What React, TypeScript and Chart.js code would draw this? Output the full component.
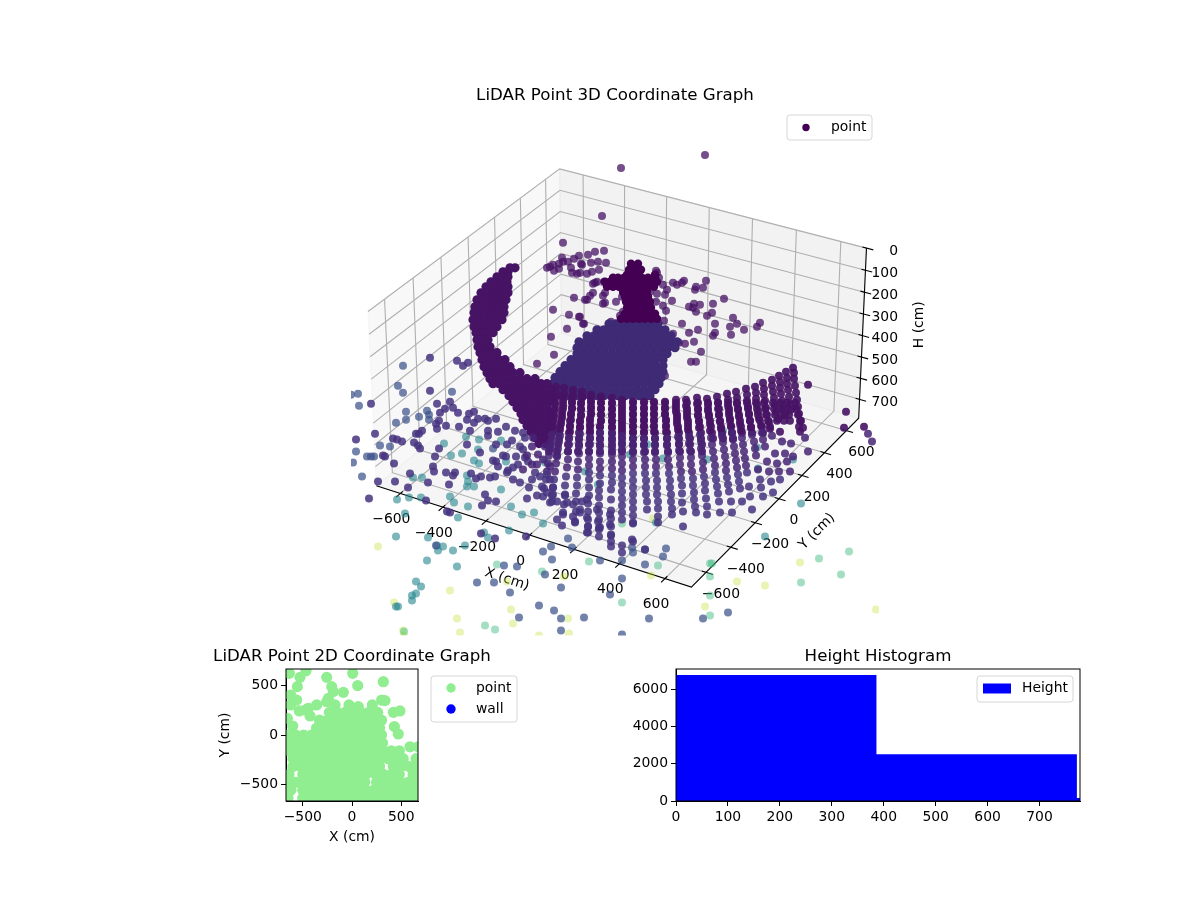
import React, { useEffect, useRef } from 'react';
import { Chart, registerables } from 'chart.js';

Chart.register(...registerables);
Chart.defaults.font.family = '"DejaVu Sans"';
Chart.defaults.font.size = 13.9;
Chart.defaults.color = '#000';

// 3D panel: a photo keeps no depth, so the cloud is read as [across, up] in the view plane of the axes
type Pair = [number, number];
type Row = [number, number[]];

const xTicks3d = [-600, -400, -200, 0, 200, 400, 600];
const yTicks3d = [-600, -400, -200, 0, 200, 400, 600];
const hTicks3d = [0, 100, 200, 300, 400, 500, 600, 700];
const xLim3d = [-714, 714];
const yLim3d = [-714, 714];
const hLim3d = [0, 790];

const towerRows: Row[] = [
  [108, [16, 23]],
  [102, [14, 20, 26]],
  [97, [12, 18, 24, 40]],
  [94, [-2, 3, 9, 15, 21, 27, 33, 40]],
  [90, [-10, -5, 0, 6, 12, 18, 24, 30, 36, 42]],
  [85, [-8, -2, 4, 10, 16, 22, 28, 34, 39]],
  [80, [8, 14, 20, 26, 32]],
  [75, [10, 16, 22, 28, 33]],
  [70, [11, 17, 23, 29, 35]],
  [64, [12, 18, 24, 30, 36]],
  [58, [10, 16, 22, 28, 34, 40]],
  [53, [6, 12, 18, 24, 30, 36, 42]],
];

const sheetRows: Row[] = [
  [104, [-100, -105]],
  [100, [-112, -107]],
  [95, [-118, -112, -107]],
  [90, [-124, -119, -113, -108]],
  [85, [-129, -123, -118, -112, -107]],
  [79, [-134, -128, -122, -117, -112, -107]],
  [72, [-138, -132, -126, -120, -114, -109]],
  [65, [-140, -134, -128, -122, -117, -111]],
  [59, [-141, -135, -129, -123, -117, -111]],
  [52, [-142, -136, -130, -124, -118, -113]],
  [45, [-141, -135, -129, -123, -118]],
  [39, [-139, -133, -128, -122]],
  [32, [-138, -132, -127]],
  [25, [-137, -131, -125]],
  [19, [-135, -129, -123, -118]],
  [12, [-133, -128, -122, -116, -110]],
  [5, [-131, -125, -118, -112, -105]],
  [-1, [-128, -122, -115, -108, -102, -95]],
  [-7, [-125, -118, -110, -102, -95, -88, -80]],
  [-12, [-122, -116, -110, -104, -98, -92, -86, -80, -74, -68]],
  [-18, [-112, -106, -100, -94, -88, -82, -76, -70, -64]],
  [-24, [-106, -100, -94, -88, -82, -76, -70, -64]],
  [-30, [-102, -96, -90, -84, -78, -72, -66]],
  [-36, [-98, -92, -86, -80, -74, -68]],
  [-42, [-94, -88, -82, -76, -70, -64]],
  [-48, [-92, -86, -80, -74, -68]],
  [-54, [-88, -82, -76, -70, -64]],
  [-60, [-84, -78, -72, -66]],
  [-66, [-80, -74, -68]],
  [-72, [-76, -70]],
];

const blobRows: Row[] = [
  [48, [-6, 1, 8, 15, 22, 29, 36, 43]],
  [42, [-18, -11, -4, 3, 10, 17, 24, 31, 38, 45, 50]],
  [36, [-28, -21, -14, -7, 0, 7, 14, 21, 28, 35, 42, 49, 56]],
  [30, [-36, -29, -22, -15, -8, -1, 6, 13, 20, 27, 34, 41, 48, 55, 62]],
  [24, [-38, -31, -24, -17, -10, -3, 4, 11, 18, 25, 32, 39, 46, 53, 60]],
  [18, [-38, -31, -24, -17, -10, -3, 4, 11, 18, 25, 32, 39, 46, 52]],
  [12, [-44, -37, -30, -23, -16, -9, -2, 5, 12, 19, 26, 33, 40, 48]],
  [6, [-50, -43, -36, -29, -22, -15, -8, -1, 6, 13, 20, 27, 34, 41, 48]],
  [0, [-55, -48, -41, -34, -27, -20, -13, -6, 1, 8, 15, 22, 29, 36, 43, 48]],
  [-6, [-60, -53, -46, -39, -32, -25, -18, -11, -4, 3, 10, 17, 24, 31, 38, 46]],
  [-12, [-62, -55, -48, -41, -34, -27, -20, -13, -6, 1, 8, 15, 22, 29, 36, 44]],
  [-18, [-62, -55, -48, -41, -34, -27, -20, -13, -6, 1, 8, 15, 22, 29, 36, 40]],
  [-24, [-60, -53, -46, -39, -32, -25, -18, -11, -4, 3, 10, 17, 24, 31, 35]],
];

// the upper part of the wall reads as solid columns
const wallFillRows: Row[] = [
  [-25, [-60, -52, -43, -33, -24, -14]],
  [-31, [-60, -52, -43, -34, -24, -14, -3, 7, 18, 29, 39, 50, 61, 72, 83, 93, 103, 113, 122, 132, 141, 149, 158, 165, 172, 180]],
  [-37, [-60, -52, -43, -34, -24, -14, -3, 7, 18, 29, 39, 50, 61, 72, 83, 93, 104, 114, 123, 133, 142, 150, 159, 166, 173, 181]],
  [-43, [-61, -53, -44, -34, -24, -14, -3, 7, 18, 29, 39, 50, 62, 72, 83, 94, 104, 114, 124, 134, 143, 151, 160, 167, 174, 183]],
  [-49, [-62, -54, -45, -35, -25, -14, -3, 7, 18, 29, 39, 51, 62, 73, 84, 95, 105, 115, 125, 135, 145, 153, 162, 169, 175, 185]],
  [-55, [-62, -55, -45, -35, -25, -15, -3, 7, 18, 29, 39, 51, 63, 73, 85, 96, 106, 116, 126, 136, 147, 155]],
  [-61, [-63, -56, -46, -36, -25, -15, -3, 7, 18, 29, 40, 52, 64, 74, 86, 97, 107, 117, 127, 137, 148]],
  [-67, [-64, -56, -46, -36, -25, -15, -3, 7, 18, 29, 40, 52, 64, 75, 86, 98, 108, 118]],
  [-73, [-65, -57, -47, -36, -26, -15, -3, 7, 18, 29, 40, 52, 64, 75, 87]],
  [-80, [-66, -58, -47, -37, -26, -15, -3, 7, 18, 30, 40, 53, 65, 76, 87]],
];

const wallDots: Pair[] = [
  [-59,-15],[-59,-21],[-60,-27],[-60,-33],[-61,-39],[-61,-45],[-62,-51],[-63,-57],[-63,-63],[-64,-70],[-65,-77],[-66,-84],[-67,-92],[-68,-100],[-69,-108],[-71,-117],[-72,-125],
  [-51,-16],[-51,-22],[-52,-28],[-52,-34],[-53,-40],[-53,-46],[-54,-52],[-55,-58],[-55,-64],[-56,-70],[-57,-77],[-58,-84],[-59,-92],[-60,-100],[-61,-108],[-62,-116],[-63,-124],[-65,-131],
  [-42,-18],[-42,-24],[-43,-30],[-43,-36],[-44,-42],[-44,-48],[-45,-54],[-45,-60],[-46,-66],[-46,-73],[-47,-80],[-47,-88],[-48,-96],[-49,-105],[-50,-114],[-50,-124],[-51,-133],[-52,-143],
  [-33,-20],[-33,-26],[-34,-32],[-34,-38],[-34,-44],[-35,-50],[-35,-56],[-35,-62],[-36,-68],[-36,-75],[-36,-82],[-37,-90],[-37,-98],[-38,-106],[-38,-114],[-39,-122],[-39,-130],[-39,-140],[-40,-151],
  [-24,-23],[-24,-29],[-24,-35],[-24,-41],[-25,-47],[-25,-53],[-25,-59],[-25,-66],[-25,-73],[-26,-80],[-26,-87],[-26,-94],[-26,-101],[-26,-108],[-26,-116],[-26,-124],[-27,-132],[-27,-140],[-27,-148],[-27,-155],[-27,-161],
  [-14,-25],[-14,-31],[-14,-37],[-14,-43],[-14,-49],[-15,-55],[-15,-61],[-15,-68],[-15,-75],[-15,-82],[-15,-90],[-15,-97],[-15,-104],[-15,-112],[-16,-119],[-16,-126],[-16,-134],[-16,-141],[-16,-148],[-16,-156],[-16,-165],
  [-3,-26],[-3,-32],[-3,-38],[-3,-44],[-3,-50],[-3,-56],[-3,-62],[-3,-69],[-3,-76],[-3,-83],[-3,-90],[-3,-97],[-3,-104],[-3,-111],[-4,-118],[-4,-128],[-4,-139],[-4,-147],[-4,-155],[-4,-164],[-4,-170],[-4,-175],
  [7,-28],[7,-34],[7,-40],[7,-46],[7,-52],[7,-58],[7,-64],[7,-71],[7,-78],[7,-85],[7,-92],[7,-99],[7,-106],[7,-113],[7,-120],[7,-127],[7,-134],[7,-141],[7,-148],[7,-174],[7,-181],
  [18,-30],[18,-36],[18,-42],[18,-48],[18,-54],[18,-60],[18,-67],[18,-74],[18,-81],[18,-88],[18,-95],[18,-102],[18,-109],[18,-116],[18,-123],[18,-130],[18,-137],[18,-144],[18,-152],[18,-170],
  [29,-30],[29,-36],[29,-42],[29,-48],[29,-54],[29,-60],[29,-67],[29,-74],[29,-81],[30,-88],[30,-95],[30,-102],[31,-109],[31,-116],[31,-123],[32,-130],[32,-138],[30,-178],
  [39,-30],[39,-36],[39,-42],[39,-48],[39,-54],[39,-60],[40,-67],[40,-74],[40,-81],[41,-88],[41,-95],[41,-102],[42,-109],[42,-116],[42,-123],[43,-130],[43,-137],[43,-145],[43,-151],
  [50,-30],[50,-36],[50,-42],[51,-48],[51,-54],[51,-60],[52,-67],[52,-74],[53,-81],[53,-88],[54,-95],[54,-102],[55,-109],[55,-116],[56,-123],[56,-130],[57,-137],[57,-143],
  [61,-28],[61,-34],[61,-40],[62,-46],[62,-52],[63,-58],[63,-65],[64,-72],[64,-79],[65,-86],[65,-93],[66,-100],[66,-107],[67,-114],[67,-122],[67,-131],[68,-140],[68,-155],
  [71,-28],[71,-34],[72,-40],[72,-46],[73,-52],[73,-58],[74,-65],[74,-72],[75,-79],[76,-86],[76,-93],[77,-100],[78,-107],[78,-114],[79,-121],[79,-128],[80,-135],[81,-141],
  [82,-26],[82,-32],[83,-38],[83,-44],[84,-50],[84,-56],[85,-63],[86,-70],[86,-77],[87,-84],[88,-91],[88,-98],[89,-105],[90,-112],[90,-119],[91,-127],[92,-135],[92,-143],
  [92,-27],[93,-33],[93,-39],[94,-45],[95,-52],[95,-59],[96,-66],[97,-73],[98,-80],[99,-87],[100,-94],[100,-101],[101,-108],[102,-115],[103,-122],[104,-130],[105,-141],
  [102,-25],[103,-31],[103,-37],[104,-43],[105,-50],[106,-57],[107,-64],[108,-71],[109,-78],[110,-85],[111,-92],[111,-99],[112,-106],[113,-113],[114,-120],[116,-130],[117,-141],
  [112,-22],[113,-28],[113,-34],[114,-40],[115,-47],[116,-54],[117,-61],[118,-68],[119,-75],[120,-82],[121,-89],[122,-96],[123,-103],[124,-110],[125,-117],[127,-130],
  [121,-20],[122,-26],[122,-32],[123,-38],[124,-45],[125,-52],[126,-59],[127,-66],[128,-73],[129,-80],[130,-87],[131,-94],[132,-101],[134,-115],[135,-125],[137,-138],
  [131,-17],[132,-23],[132,-29],[133,-35],[134,-42],[135,-49],[136,-56],[137,-63],[139,-70],[140,-77],[141,-84],[143,-98],[145,-108],[146,-116],[148,-125],
  [140,-15],[141,-21],[141,-27],[142,-33],[143,-40],[144,-47],[146,-54],[147,-61],[148,-68],[150,-75],[152,-90],[154,-100],[156,-110],[158,-121],
  [148,-11],[149,-17],[149,-23],[150,-29],[151,-36],[152,-43],[154,-50],[155,-57],[157,-64],[160,-82],[162,-92],[164,-100],[165,-108],
  [157,-8],[157,-14],[158,-20],[159,-26],[160,-33],[161,-40],[163,-47],[165,-60],[167,-70],[170,-82],[172,-90],[175,-100],
  [164,-4],[165,-10],[165,-16],[166,-22],[167,-29],[168,-36],[170,-43],[176,-72],[178,-85],
  [171,0],[172,-6],[172,-12],[173,-18],[174,-25],[175,-32],[176,-38],[184,-55],[185,-60],
  [178,4],[179,-1],[179,-7],[180,-14],[181,-21],[182,-28],[183,-35],[184,-42],[186,-49],[188,-56],[190,-66],[193,-80],
  [-58,-148],[-53,-154],[-35,-141],[-16,-158],[17,-168],[18,-151],[193,-13],[231,-40],[229,-56],[249,-55],[253,-62],[257,-70],
  // tangle in front of the wall, lower left
  [-68,-121],[-62,-123],[-58,-130],[-63,-130],[-50,-123],[-48,-131],[-52,-141],[-42,-133],[-42,-145],[-40,-150],[-28,-128],[-28,-146],[-27,-155],[-28,-161],[-18,-138],[-17,-150],[-15,-156],[-5,-143],[-5,-153],[-4,-163],[-33,-130],[-35,-138],
  [-82,-66],[-83,-75],[-77,-83],[-80,-101],[-75,-105],[-68,-103],[-73,-115],[-62,-116],[-65,-108],[-78,-93],[-65,-95],[-58,-85],[-83,-93],[-83,-108],[-70,-75],[-65,-76],[-72,-88],[-88,-84],[-92,-98],[-86,-116],[-78,-124],
];

const upperCloud: Pair[] = [
  [-11,121],[-20,120],[-27,117],[-36,116],[-17,110],[-24,109],[-9,109],[-33,107],[-16,102],[-23,100],[-28,98],[-35,99],[-18,90],[-22,88],[-11,90],
  [-22,79],[-25,76],[-28,72],[-30,72],[-12,68],[-10,69],[-10,79],[-12,76],[1,70],[7,75],[8,79],[8,60],[5,56],[-4,50],[-32,48],[-35,55],
  [41,101],[42,99],[44,94],[35,80],[42,78],[48,87],[50,77],[52,82],[58,89],[62,87],[67,89],[69,91],[91,91],[81,85],[80,82],[88,84],[109,73],
  [57,71],[41,70],[48,66],[51,61],[79,68],[85,67],[74,65],[78,64],[81,60],[98,68],[97,59],[92,56],[118,54],[122,48],[100,48],[115,45],[67,48],
  [49,51],[142,45],[145,49],[129,42],[83,42],[74,39],[100,39],[98,36],[116,37],[58,38],[79,30],[70,28],[64,29],[86,20],[76,10],[81,10],[50,-4],
  [15,37],[22,26],[-52,129],[-53,114],[-41,113],[-47,110],[-52,110],[-56,108],[-62,107],[-65,105],[-68,104],[-61,101],[-56,103],[-44,104],[-43,99],
  [-38,98],[-34,108],[-41,74],[-62,62],[-46,57],[-36,55],[-31,48],[-48,43],[-64,35],[-61,17],[-78,8],[-49,5],[-20,89],[6,204],[90,217],[-13,156],
];

const lowPurple: Pair[] = [
  [-244,-32],[-185,14],[-158,11],[-147,9],[-152,6],[-185,-19],[-178,-32],[-165,-30],[-170,-37],[-162,-36],[-157,-41],[-175,-41],[-179,-52],[-176,-49],[-169,-54],[-178,-57],
  [-156,-55],[-148,-48],[-146,-42],[-141,-40],[-141,-51],[-145,-59],[-137,-47],[-130,-47],[-127,-49],[-119,-47],[-127,-59],[-127,-64],[-117,-60],[-109,-55],[-100,-59],
  [-193,-59],[-196,-62],[-199,-62],[-240,-62],[-222,-67],[-218,-68],[-213,-70],[-201,-71],[-197,-74],[-195,-77],[-176,-77],[-148,-73],[-259,-68],[-232,-84],[-230,-85],
  [-182,-95],[-180,-85],[-181,-100],[-169,-101],[-160,-101],[-162,-104],[-166,-113],[-187,-111],[-207,-116],[-205,-102],[-220,-110],[-237,-110],[-221,-92],
  [-135,-81],[-122,-89],[-119,-90],[-112,-84],[-109,-85],[-99,-85],[-117,-95],[-102,-96],[-107,-99],[-97,-93],[-144,-102],[-139,-107],[-134,-105],[-125,-106],[-120,-105],
  [-108,-101],[-95,-111],[-102,-108],[-90,-86],[-87,-90],[-103,-69],[-108,-73],[-95,-75],[-119,-73],[-92,-78],[-90,-66],[-92,-61],
  [-246,-127],[-189,-129],[-168,-140],[-165,-141],[-133,-134],[-127,-129],[-130,-123],[-119,-130],[-134,-162],[-120,-167],[-89,-165],[-88,-127],
];

const slateDots: Pair[] = [
  [-257,-22],[-264,-23],[-256,-34],[-212,6],[-217,-14],[-212,-21],[-163,-20],[-188,-39],[-186,-43],[-186,-48],[-196,-45],[-209,-40],[-209,-48],[-219,-51],
  [-259,-80],[-235,-74],[-225,-75],[-248,-85],[-244,-85],[-241,-85],[-262,-91],[-253,-105],[-122,-77],[-111,-194],[-98,-195],[-138,-211],[-121,-211],[-105,-221],[-96,-246],
  [-72,-180],[-64,-175],[-63,-188],[-43,-176],[-47,-167],[-15,-189],[7,-189],[30,-193],[48,-185],[51,-177],[30,-178],[18,-181],[17,-176],[-54,-216],[-70,-203],[7,-207],[-5,-223],
  [-76,-234],[-61,-239],[-54,-247],[-31,-246],[-54,-259],[7,-263],[34,-247],[88,-247],[113,-241],[-179,-174],
];

const tealDots: Pair[] = [
  [-218,-128],[-206,-126],[-194,-126],[-165,-125],[-161,-131],[-147,-135],[-157,-146],[-210,-142],[-219,-165],[-187,-166],[-178,-174],[-177,-179],[-172,-175],[-162,-179],
  [-150,-174],[-188,-189],[-158,-195],[-199,-210],[-194,-215],[-199,-222],[-203,-224],[-203,-229],[-219,-235],[-217,-235],[-131,-161],[-127,-166],[-106,-159],[-104,-135],
  [-93,-143],[-114,-118],[-149,-65],[-136,-68],[-171,-72],[-164,-84],[-153,-82],[-193,-106],[-202,-106],[-141,-89],[-136,-92],[-148,-104],[-141,-115],[-148,-115],[-147,-110],
  [-137,-78],[-114,-69],[-109,-90],[-72,-152],[-81,-141],[41,-151],[186,-132],[150,-165],[-70,-91],[-30,-100],[-17,-113],[48,-87],[32,-73],[92,-88],[15,-83],[143,-97],[178,-88],[108,-59],[142,-76],
];

const mintDots: Pair[] = [
  [-118,-193],[-130,-254],[-211,-260],[-120,-258],[-26,-190],[43,-194],[-73,-200],[7,-231],[7,-152],[95,-192],[234,-180],[204,-187],[226,-203],[186,-211],[97,-192],[95,-205],[95,-224],[95,-244],
];

const paleDots: Pair[] = [
  [-237,-175],[-165,-219],[-221,-231],[-158,-247],[-104,-238],[-102,-252],[-155,-261],[-212,-259],[-108,-210],[-51,-205],[36,-204],[-47,-247],[-46,-262],[-76,-264],[90,-235],[38,-147],
  [185,-191],[122,-210],[150,-214],[261,-238],[-211,-264],
];

// 2D panel
const planeTicks = [-500, 0, 500];
const scatterRows: Row[] = [
  [653, [-467]], [626, [7, -636]], [585, [-257, -528]], [541, [318]], [501, [58]], [491, [-555, -206]], [440, [-189]], [433, [-88]], [406, [-623]],
  [372, [-240]], [355, [-562, 301]], [349, [335]], [338, [-257]], [305, [-623, -172, -359, -30, 206]], [288, [64]], [271, [-443]], [254, [-474]], [244, [-535, 487]], [230, [420]],
  [230, [-230, -150, -70, 10, 90, 170, 260]],
  [193, [-426]], [169, [-656]],
  [150, [-330, -250, -170, -90, -10, 70, 150, 230, 300]],
  [91, [-602]], [85, [430]],
  [70, [-360, -280, -200, -120, -40, 40, 120, 200, 280]],
  [10, [470]],
  [0, [-650, -570, -490, -410, -330, -250, -170, -90, -10, 70, 150, 230, 300]],
  [-80, [-650, -570, -490, -410, -330, -250, -170, -90, -10, 70, 150, 230, 310]],
  [-120, [589, 673]],
  [-160, [-640, -560, -480, -400, -320, -240, -160, -80, 0, 80, 160, 240, 320, 400, 480]],
  [-240, [-600, -520, -440, -360, -280, -200, -120, -40, 40, 120, 200, 280, 360, 440, 520, 650]],
  [-320, [-600, -520, -440, -360, -280, -200, -120, -40, 40, 120, 200, 280, 420, 500, 580, 650]],
  [-400, [-640, -500, -420, -340, -260, -180, -100, -20, 60, 140, 240, 320, 400, 480, 620]],
  [-480, [-640, -570, -500, -420, -340, -260, -180, -100, -20, 60, 130, 250, 330, 410, 490, 570, 650]],
  [-560, [-620, -500, -420, -340, -260, -180, -100, -20, 60, 140, 220, 300, 380, 460, 540, 620, 660]],
  [-640, [-650, -500, -420, -340, -260, -180, -100, -20, 60, 140, 220, 300, 380, 460, 540, 620, 660]],
];
const wallScatter: Pair[] = [];

// histogram
const histEdges = [0, 386, 772, 778];
const histCounts = [6780, 2520, 160, 160];
const histXTicks = [0, 100, 200, 300, 400, 500, 600, 700];
const histYTicks = [0, 2000, 4000, 6000];

const VIRIDIS: Record<string, number[]> = {
  '0': [68, 1, 84], '0.05': [71, 19, 101], '0.1': [72, 36, 117], '0.15': [70, 52, 128], '0.2': [65, 68, 135], '0.25': [59, 82, 139],
  '0.45': [37, 133, 142], '0.65': [53, 183, 121], '0.9': [189, 223, 38],
};
const tint = (shade: number, alpha: number) => `rgba(${VIRIDIS[String(shade)].join(',')},${alpha})`;

const fromRows = (rows: Row[]) => rows.flatMap(([v, us]) => us.map(u => ({ x: u, y: v })));
const fromPairs = (pairs: Pair[]) => pairs.map(([u, v]) => ({ x: u, y: v }));

// mplot3d camera: elevation 30, azimuth -60, distance 10
const BOX_XY = 1.19;
const BOX_H = 0.66;
const VIEW_K = 3015;
const VIEW_U0 = 7;
const VIEW_V0 = 5;
function project(x: number, y: number, h: number): [number, number] {
  const a = ((x - xLim3d[0]) / (xLim3d[1] - xLim3d[0]) - 0.5) * BOX_XY;
  const b = ((y - yLim3d[0]) / (yLim3d[1] - yLim3d[0]) - 0.5) * BOX_XY;
  const c = ((hLim3d[1] - h) / (hLim3d[1] - hLim3d[0]) - 0.5) * BOX_H;
  const right = 0.866 * a + 0.5 * b;
  const up = -0.25 * a + 0.433 * b + 0.866 * c;
  const toward = 0.433 * a - 0.75 * b + 0.5 * c;
  const depth = 10 - toward;
  return [(VIEW_K * right) / depth + VIEW_U0, (VIEW_K * up) / depth + VIEW_V0];
}

const axis3dPlugin = {
  id: 'axis3d',
  beforeDatasetsDraw(chart: any) {
    const { ctx, scales } = chart;
    const px = (p: [number, number]) => [scales.x.getPixelForValue(p[0]), scales.y.getPixelForValue(p[1])];
    const [x0, x1] = xLim3d;
    const [y0, y1] = yLim3d;
    const [hTop, hFloor] = hLim3d;
    const poly = (pts: [number, number][], fill?: string, stroke?: string, width = 1.1) => {
      ctx.beginPath();
      pts.map(px).forEach((q: number[], i: number) => (i ? ctx.lineTo(q[0], q[1]) : ctx.moveTo(q[0], q[1])));
      if (fill) {
        ctx.closePath();
        ctx.fillStyle = fill;
        ctx.fill();
      }
      if (stroke) {
        ctx.strokeStyle = stroke;
        ctx.lineWidth = width;
        ctx.stroke();
      }
    };
    ctx.save();
    poly([project(x0, y0, hFloor), project(x0, y1, hFloor), project(x0, y1, hTop), project(x0, y0, hTop)], 'rgba(242,242,242,0.5)', 'rgba(242,242,242,0.6)');
    poly([project(x0, y1, hFloor), project(x1, y1, hFloor), project(x1, y1, hTop), project(x0, y1, hTop)], 'rgba(230,230,230,0.5)', 'rgba(230,230,230,0.6)');
    poly([project(x0, y0, hFloor), project(x1, y0, hFloor), project(x1, y1, hFloor), project(x0, y1, hFloor)], 'rgba(236,236,236,0.5)', 'rgba(236,236,236,0.6)');

    const gridColor = '#b0b0b0';
    xTicks3d.forEach(t => poly([project(t, y0, hFloor), project(t, y1, hFloor), project(t, y1, hTop)], undefined, gridColor));
    yTicks3d.forEach(t => poly([project(x1, t, hFloor), project(x0, t, hFloor), project(x0, t, hTop)], undefined, gridColor));
    hTicks3d.forEach(t => poly([project(x0, y0, t), project(x0, y1, t), project(x1, y1, t)], undefined, gridColor));

    poly([project(x0, y0, hFloor), project(x1, y0, hFloor), project(x1, y1, hFloor), project(x1, y1, hTop)], undefined, '#000');
    xTicks3d.forEach(t => poly([project(t, y0 - 30, hFloor), project(t, y0 + 18, hFloor)], undefined, '#000'));
    yTicks3d.forEach(t => poly([project(x1 + 30, t, hFloor), project(x1 - 18, t, hFloor)], undefined, '#000'));
    hTicks3d.forEach(t => poly([project(x1 + 30, y1, t), project(x1 - 18, y1, t)], undefined, '#000'));

    ctx.fillStyle = '#000';
    ctx.font = '13.9px "DejaVu Sans"';
    ctx.textBaseline = 'middle';
    ctx.textAlign = 'center';
    const minus = (t: number) => String(t).replace('-', '\u2212');
    xTicks3d.forEach(t => {
      const q = px(project(t, y0, hFloor));
      ctx.fillText(minus(t), q[0] - 9, q[1] + 26);
    });
    yTicks3d.forEach(t => {
      const q = px(project(x1, t, hFloor));
      ctx.fillText(minus(t), q[0] + 15, q[1] + 22);
    });
    ctx.textAlign = 'right';
    hTicks3d.forEach(t => {
      const q = px(project(x1, y1, t));
      ctx.fillText(minus(t), scales.x.getPixelForValue(283), q[1] + 3);
    });
    ctx.textAlign = 'center';
    const rotated = (text: string, u: number, v: number, deg: number) => {
      ctx.save();
      ctx.translate(scales.x.getPixelForValue(u), scales.y.getPixelForValue(v));
      ctx.rotate((deg * Math.PI) / 180);
      ctx.fillText(text, 0, 0);
      ctx.restore();
    };
    rotated('X (cm)', -108, -208, 18);
    rotated('Y (cm)', 202, -160, -45);
    rotated('H (cm)', 304, 47, -90);
    ctx.restore();
  },
};

// titles, axes frame and the matplotlib style legend box
const panelPlugin = {
  id: 'panel',
  afterDraw(chart: any, _a: any, opts: any) {
    const { ctx, chartArea } = chart;
    ctx.save();
    if (opts.frame) {
      ctx.strokeStyle = '#000';
      ctx.lineWidth = 1;
      ctx.strokeRect(chartArea.left, chartArea.top, chartArea.width, chartArea.height);
    }
    ctx.fillStyle = '#000';
    ctx.font = '16.67px "DejaVu Sans"';
    ctx.textAlign = 'center';
    ctx.textBaseline = 'middle';
    ctx.fillText(opts.title, (chartArea.left + chartArea.right) / 2, opts.titleY);
    const box = opts.legend;
    ctx.beginPath();
    ctx.roundRect(box.left, box.top, box.width, box.height, 3);
    ctx.fillStyle = 'rgba(255,255,255,0.8)';
    ctx.fill();
    ctx.strokeStyle = '#d6d6d6';
    ctx.lineWidth = 1;
    ctx.stroke();
    ctx.font = '13.9px "DejaVu Sans"';
    ctx.textAlign = 'left';
    box.items.forEach((it: any, i: number) => {
      const y = box.top + box.first + i * 21;
      ctx.fillStyle = it.color;
      if (it.bar) {
        ctx.fillRect(box.left + 6, y - 5, 28, 10);
      } else {
        ctx.beginPath();
        ctx.arc(box.left + box.mark, y, it.r, 0, Math.PI * 2);
        ctx.fill();
      }
      ctx.fillStyle = '#000';
      ctx.fillText(it.label, box.left + box.text, y);
    });
    ctx.restore();
  },
};

const cloudSet = (data: { x: number; y: number }[], color: any, order: number, radius = 4) => ({
  label: 'point',
  data,
  order,
  pointRadius: radius,
  pointBorderWidth: 0,
  pointBackgroundColor: color,
  showLine: false,
});

const wallTint = (v: number) => (v < -100 ? tint(0.15, 0.85) : v < -60 ? tint(0.1, 0.85) : tint(0.05, 0.9));

function useChart(config: () => any) {
  const ref = useRef<HTMLCanvasElement | null>(null);
  useEffect(() => {
    if (!ref.current) return;
    const chart = new Chart(ref.current, config());
    return () => chart.destroy();
  }, []);
  return ref;
}

const cloudConfig = () => ({
  type: 'scatter',
  data: {
    datasets: [
      cloudSet(fromPairs(paleDots), tint(0.9, 0.35), 10),
      cloudSet(fromPairs(mintDots), tint(0.65, 0.45), 9),
      cloudSet(fromPairs(tealDots), tint(0.45, 0.6), 8),
      cloudSet(fromPairs(slateDots), tint(0.25, 0.72), 7),
      cloudSet(fromPairs(lowPurple), tint(0.15, 0.85), 6),
      cloudSet(fromPairs(upperCloud), tint(0.05, 0.75), 5),
      cloudSet(fromRows(blobRows), '#3f2a75', 4, 4.6),
      cloudSet(fromRows(towerRows), tint(0, 1), 3, 4.2),
      cloudSet(fromRows(sheetRows), tint(0.05, 1), 2, 4.6),
      cloudSet(fromRows(wallFillRows), tint(0.05, 0.9), 1),
      cloudSet(fromPairs(wallDots), wallDots.map(d => wallTint(d[1])), 0),
    ],
  },
  options: {
    animation: false,
    responsive: false,
    devicePixelRatio: 1,
    layout: { padding: { left: 351, right: 321, top: 108, bottom: 4 } },
    scales: {
      x: { type: 'linear', display: false, min: -264, max: 264 },
      y: { type: 'linear', display: false, min: -264, max: 264 },
    },
    plugins: {
      legend: { display: false },
      tooltip: { enabled: false },
      panel: {
        title: 'LiDAR Point 3D Coordinate Graph',
        titleY: 96,
        legend: { left: 787, top: 115, width: 85, height: 25, first: 12.5, mark: 19, text: 44, items: [{ label: 'point', color: '#440154', r: 3.7 }] },
      },
    },
  },
  plugins: [axis3dPlugin, panelPlugin],
});

const axisOptions = (min: number, max: number, ticks: number[], title: string | null, size: number, titlePad: any) => ({
  type: 'linear',
  min,
  max,
  grid: { display: true, drawOnChartArea: false, drawTicks: true, tickLength: 5, color: '#000' },
  border: { color: '#000' },
  title: title ? { display: true, text: title, padding: titlePad, font: { size: 13.9 } } : { display: false },
  ticks: { autoSkip: false, maxRotation: 0, padding: 3, callback: (v: any) => String(v).replace('-', '\u2212') },
  afterBuildTicks: (s: any) => {
    s.ticks = ticks.map(value => ({ value }));
  },
  afterFit: (s: any) => {
    if (s.axis === 'x') s.height = size;
    else s.width = size;
  },
});

const planeConfig = () => ({
  type: 'scatter',
  data: {
    datasets: [
      { label: 'wall', data: fromPairs(wallScatter), pointBackgroundColor: '#0000ff', pointRadius: 5.6, order: 0 },
      { label: 'point', data: fromRows(scatterRows), pointBackgroundColor: '#90ee90', pointBorderWidth: 0, pointRadius: 5.6, order: 1 },
    ],
  },
  options: {
    animation: false,
    responsive: false,
    devicePixelRatio: 1,
    layout: { padding: { left: 0, right: 122, top: 29, bottom: 0 } },
    parsing: false,
    scales: {
      x: axisOptions(-670, 670, planeTicks, 'X (cm)', 49, { top: 0, bottom: 4 }),
      y: axisOptions(-670, 670, planeTicks, 'Y (cm)', 86, { top: 17, bottom: 0 }),
    },
    plugins: {
      legend: { display: false },
      tooltip: { enabled: false },
      panel: {
        frame: true,
        title: 'LiDAR Point 2D Coordinate Graph',
        titleY: 17,
        legend: {
          left: 231, top: 36, width: 86, height: 46, first: 12, mark: 20, text: 45,
          items: [{ label: 'point', color: '#90ee90', r: 4.7 }, { label: 'wall', color: '#0000ff', r: 4.7 }],
        },
      },
    },
  },
  plugins: [panelPlugin],
});

const histConfig = () => ({
  type: 'line',
  data: {
    datasets: [
      {
        label: 'Height',
        data: histEdges.map((e, i) => ({ x: e, y: histCounts[i] })),
        stepped: 'before',
        fill: 'origin',
        backgroundColor: '#0000ff',
        borderWidth: 0,
        pointRadius: 0,
      },
    ],
  },
  options: {
    animation: false,
    responsive: false,
    devicePixelRatio: 1,
    layout: { padding: { left: 0, right: 20, top: 29, bottom: 0 } },
    scales: {
      x: axisOptions(0, 778, histXTicks, null, 49, null),
      y: axisOptions(0, 7100, histYTicks, null, 56, null),
    },
    plugins: {
      legend: { display: false },
      tooltip: { enabled: false },
      panel: {
        frame: true,
        title: 'Height Histogram',
        titleY: 17,
        legend: { left: 357, top: 36, width: 96, height: 26, first: 12.5, mark: 20, text: 45, items: [{ label: 'Height', color: '#0000ff', bar: true }] },
      },
    },
  },
  plugins: [panelPlugin],
});

export default function App() {
  const cloudRef = useChart(cloudConfig);
  const planeRef = useChart(planeConfig);
  const histRef = useChart(histConfig);
  return (
    <div style={{ position: 'absolute', left: 0, top: 0, width: 1200, height: 900, background: '#fff', overflow: 'hidden' }}>
      <canvas ref={cloudRef} width={1200} height={640} style={{ position: 'absolute', left: 0, top: 0 }} />
      <canvas ref={planeRef} width={340} height={210} style={{ position: 'absolute', left: 200, top: 640 }} />
      <canvas ref={histRef} width={480} height={210} style={{ position: 'absolute', left: 620, top: 640 }} />
    </div>
  );
}
